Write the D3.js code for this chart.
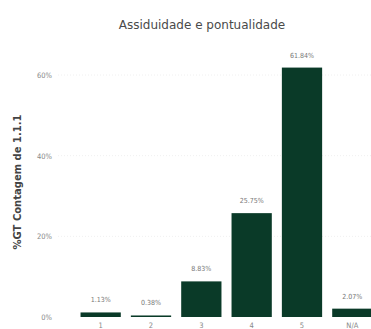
<!DOCTYPE html>
<html>
<head>
<meta charset="utf-8">
<script src="https://cdn.jsdelivr.net/npm/d3@7"></script>
<style>
  html, body { margin: 0; padding: 0; background: #fff; }
  svg { display: block; }
</style>
</head>
<body>
<svg id="chart" width="371" height="329"></svg>
<script>
// Response categories and their share of the grand total (%)
const categories = ["1", "2", "3", "4", "5", "N/A"];
const shares = [1.13, 0.38, 8.83, 25.75, 61.84, 2.07];
const yTicks = [0, 20, 40, 60];

const title = "Assiduidade e pontualidade";
const yTitle = "%GT Contagem de 1.1.1";

const svg = d3.select("#chart");
const W = 371, H = 329;
const baseY = 317, topY = 75;

const x = d3.scaleBand()
  .domain(categories)
  .range([75.5, 377.5])
  .paddingInner(0.2)
  .paddingOuter(0.1);

const y = d3.scaleLinear()
  .domain([0, 60])
  .range([baseY, topY]);

const fmt = v => v.toFixed(2) + "%";

// Title
svg.append("text")
  .attr("x", 202)
  .attr("y", 29)
  .attr("text-anchor", "middle")
  .attr("font-family", "'DejaVu Sans', sans-serif")
  .attr("font-size", 12)
  .attr("fill", "#4a4a4a")
  .text(title);

// Gridlines
svg.append("g")
  .selectAll("line")
  .data(yTicks.filter(t => t > 0))
  .join("line")
  .attr("x1", 58)
  .attr("x2", W)
  .attr("y1", d => y(d))
  .attr("y2", d => y(d))
  .attr("stroke", "#f0f0f0")
  .attr("stroke-width", 1)
  .attr("stroke-dasharray", "1,2");

// Y axis
const yAxis = svg.append("g")
  .attr("transform", "translate(54,0)")
  .call(d3.axisLeft(y).tickValues(yTicks).tickSize(0).tickPadding(2).tickFormat(d => d + "%"));
yAxis.select(".domain").remove();
yAxis.selectAll("text")
  .attr("font-family", "'DejaVu Sans Condensed', 'DejaVu Sans', sans-serif")
  .attr("font-size", 7.5)
  .attr("fill", "#888");

// Y axis title
svg.append("text")
  .attr("transform", "translate(21,182) rotate(-90)")
  .attr("text-anchor", "middle")
  .attr("font-family", "'DejaVu Sans', sans-serif")
  .attr("font-size", 10)
  .attr("font-weight", 600)
  .attr("fill", "#444")
  .text(yTitle);

// Bars
const data = categories.map((c, i) => ({ c, v: shares[i] }));
svg.append("g")
  .selectAll("rect")
  .data(data)
  .join("rect")
  .attr("x", d => x(d.c))
  .attr("width", x.bandwidth())
  .attr("y", d => y(d.v))
  .attr("height", d => baseY - y(d.v))
  .attr("fill", "#0a3a28");

// Data labels
svg.append("g")
  .selectAll("text")
  .data(data)
  .join("text")
  .attr("x", d => x(d.c) + x.bandwidth() / 2)
  .attr("y", d => y(d.v) - 10)
  .attr("text-anchor", "middle")
  .attr("font-family", "'DejaVu Sans Condensed', 'DejaVu Sans', sans-serif")
  .attr("font-size", 7)
  .attr("fill", "#777")
  .text(d => fmt(d.v));

// X axis
const xAxis = svg.append("g")
  .attr("transform", `translate(0,${baseY})`)
  .call(d3.axisBottom(x).tickSize(0).tickPadding(6));
xAxis.select(".domain").remove();
xAxis.selectAll("text")
  .attr("font-family", "'DejaVu Sans Condensed', 'DejaVu Sans', sans-serif")
  .attr("font-size", 7.5)
  .attr("fill", "#888");
</script>
</body>
</html>
